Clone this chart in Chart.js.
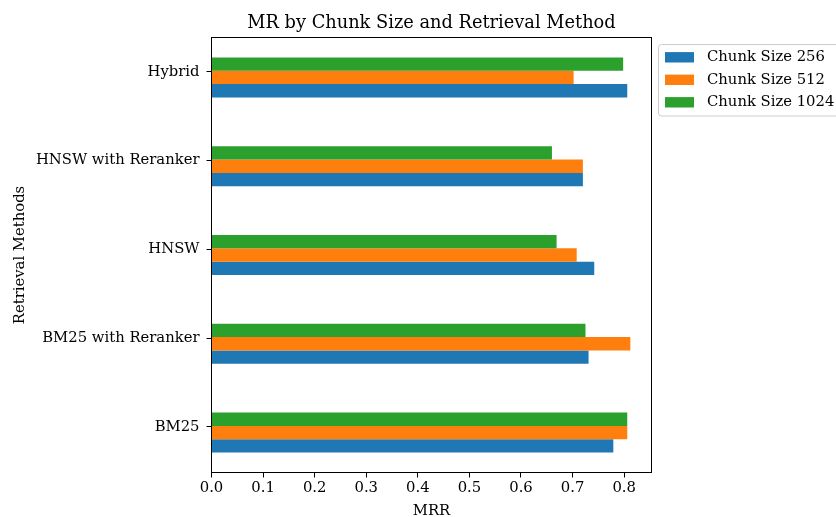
<!DOCTYPE html>
<html>
<head>
<meta charset="utf-8">
<script src="https://cdn.jsdelivr.net/npm/chart.js@4"></script>
<style>
html,body{margin:0;padding:0;background:#fff;}
#wrap{width:836px;height:517px;position:relative;}
</style>
</head>
<body>
<div id="wrap"><canvas id="c" width="836" height="517"></canvas></div>
<script>
// ---- data (bottom-to-top category order, as in the source plot) ----
const categories = ['BM25', 'BM25 with Reranker', 'HNSW', 'HNSW with Reranker', 'Hybrid'];
const seriesLabels = ['Chunk Size 256', 'Chunk Size 512', 'Chunk Size 1024'];
const chunk256  = [0.779, 0.731, 0.742, 0.720, 0.806];
const chunk512  = [0.806, 0.812, 0.708, 0.720, 0.702];
const chunk1024 = [0.806, 0.725, 0.669, 0.660, 0.798];
const xTickValues = [0.0, 0.1, 0.2, 0.3, 0.4, 0.5, 0.6, 0.7, 0.8];
const titleText = 'MR by Chunk Size and Retrieval Method';
const xTitle = 'MRR';
const yTitle = 'Retrieval Methods';

// ---- styling ----
const colors = ['#1f77b4', '#ff7f0e', '#2ca02c'];
const FONT = "'DejaVu Serif', serif";
const FS = 14.8;
const seriesValues = [chunk256, chunk512, chunk1024];
const tickShift = 0.065; // tick sits slightly above group centre, as in the reference

// Chart.js stacks grouped bars top-down by dataset index, so feed them reversed
const datasets = seriesValues.map((vals, s) => ({
  label: seriesLabels[s],
  data: vals.map((v, i) => ({ x: v, y: i })),
  backgroundColor: colors[s],
  borderWidth: 0,
  categoryPercentage: 0.45,
  barPercentage: 1.0
})).reverse();

const framePlugin = {
  id: 'frame',
  afterDatasetsDraw(chart) {
    const c = chart.ctx, a = chart.chartArea;
    c.save();
    c.strokeStyle = '#000';
    c.lineWidth = 1;
    c.strokeRect(a.left, a.top, a.right - a.left, a.bottom - a.top);
    c.restore();
  }
};

const legendPlugin = {
  id: 'mplLegend',
  afterDraw(chart) {
    const c = chart.ctx, a = chart.chartArea;
    const x0 = a.right + 7, y0 = a.top + 7;
    const w = 200, h = 71.5, r = 3;
    c.save();
    c.beginPath();
    c.roundRect(x0, y0, w, h, r);
    c.fillStyle = 'rgba(255,255,255,0.8)';
    c.fill();
    c.strokeStyle = '#cccccc';
    c.lineWidth = 1;
    c.stroke();
    c.font = FS + 'px ' + FONT;
    c.textBaseline = 'middle';
    c.textAlign = 'left';
    seriesLabels.forEach((lab, k) => {
      const cy = y0 + 12.8 + k * 22.5;
      c.fillStyle = colors[k];
      c.fillRect(x0 + 6.5, cy - 5.2, 29, 10.4);
      c.fillStyle = '#000';
      c.fillText(lab, x0 + 48.5, cy);
    });
    c.restore();
  }
};

new Chart(document.getElementById('c'), {
  type: 'bar',
  data: { datasets },
  options: {
    indexAxis: 'y',
    responsive: false,
    animation: false,
    devicePixelRatio: 1,
    events: [],
    layout: { padding: { left: 0, right: 184.5, top: 0, bottom: 0 } },
    plugins: {
      legend: { display: false },
      tooltip: { enabled: false },
      title: {
        display: true,
        text: titleText,
        fullSize: false,
        color: '#000',
        font: { family: FONT, size: 17.8, weight: 'normal', lineHeight: '22px' },
        padding: { top: 12, bottom: 3.5 }
      }
    },
    scales: {
      x: {
        type: 'linear',
        position: 'bottom',
        min: 0,
        max: 0.853,
        offset: false,
        afterBuildTicks(axis) { axis.ticks = xTickValues.map(v => ({ value: v })); },
        afterFit(axis) { axis.height = 44.5; },
        ticks: {
          callback: (v) => Number(v).toFixed(1),
          color: '#000',
          font: { family: FONT, size: FS },
          padding: 2,
          autoSkip: false,
          maxRotation: 0
        },
        grid: { display: true, offset: false, drawOnChartArea: false, drawTicks: true, tickLength: 5, color: '#000', lineWidth: 1 },
        border: { display: true, color: '#000', width: 1 },
        title: {
          display: true,
          text: xTitle,
          color: '#000',
          font: { family: FONT, size: FS, lineHeight: '12px' },
          padding: { top: 0, bottom: 0 }
        }
      },
      y: {
        type: 'linear',
        position: 'left',
        min: -0.45,
        max: 4.45,
        offset: false,
        afterBuildTicks(axis) { axis.ticks = categories.map((c, i) => ({ value: i + tickShift })); },
        afterFit(axis) { axis.width = 211.5; },
        ticks: {
          callback: (v, i) => categories[i],
          color: '#000',
          font: { family: FONT, size: FS },
          padding: 7,
          autoSkip: false
        },
        grid: { display: true, offset: false, drawOnChartArea: false, drawTicks: true, tickLength: 5, color: '#000', lineWidth: 1 },
        border: { display: true, color: '#000', width: 1 },
        title: {
          display: true,
          text: yTitle,
          color: '#000',
          font: { family: FONT, size: FS, lineHeight: '16px' },
          padding: { top: 12, bottom: 0 }
        }
      }
    }
  },
  plugins: [framePlugin, legendPlugin]
});
</script>
</body>
</html>
